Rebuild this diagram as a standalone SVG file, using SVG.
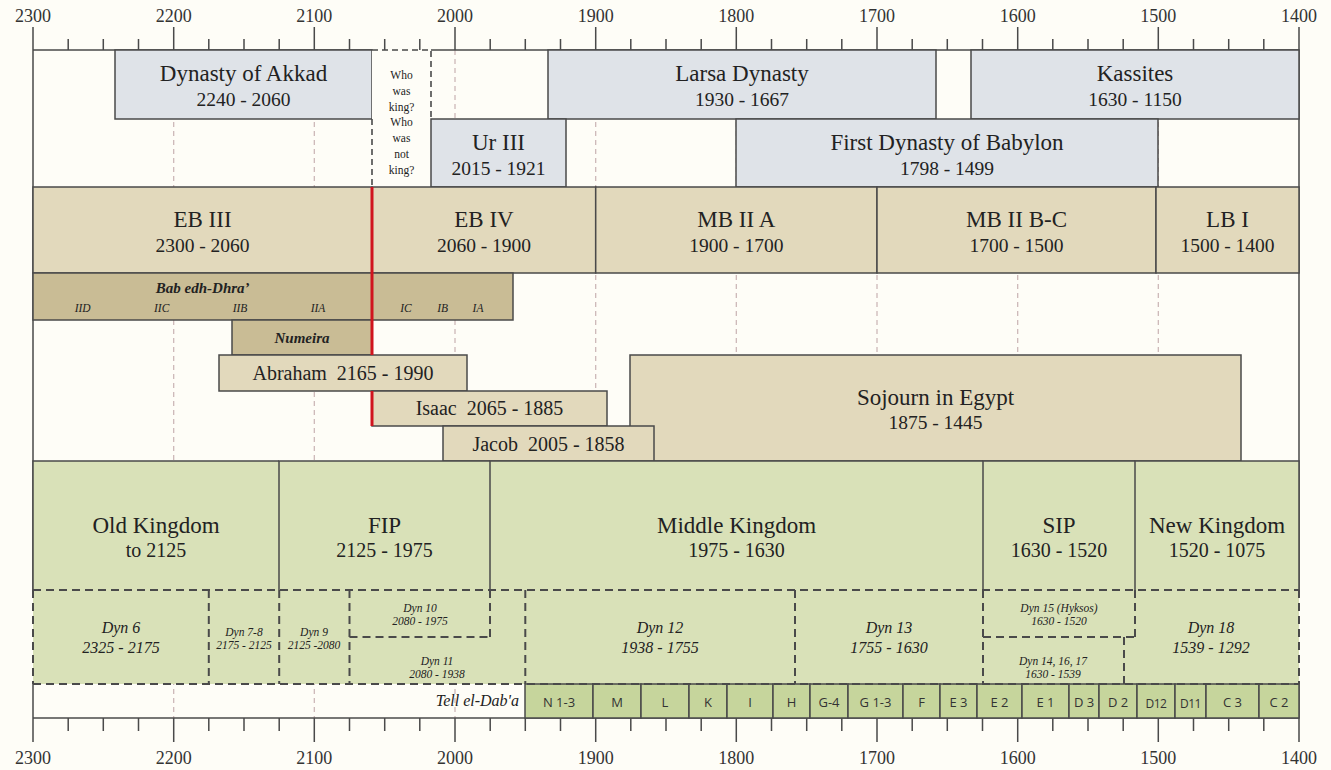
<svg xmlns="http://www.w3.org/2000/svg" width="1331" height="770" viewBox="0 0 1331 770">
<style>
.bg{fill:#fefdf7}
.box{stroke:#4a4a4a;stroke-width:1.5}
.blue{fill:#dfe3e8}
.tan{fill:#e2d9bc}
.dtan{fill:#c9bc95}
.green{fill:#d9e1b8}
.tell{fill:#c6d59c}
.solid{fill:none;stroke:#4a4a4a;stroke-width:1.5}
.dash{fill:none;stroke:#4a4a4a;stroke-width:2;stroke-dasharray:8 5}
.grid{fill:none;stroke:#c9b3b3;stroke-width:1.2;stroke-dasharray:5 4}
.tick{stroke:#4a4a4a;stroke-width:1.5}
.red{stroke:#d0141e;stroke-width:3}
text{font-family:"Liberation Serif","Times New Roman",serif;fill:#222;text-anchor:middle}
.ax{font-size:18px;fill:#333}
.t{font-size:23px}
.d{font-size:19.5px}
.dy{font-size:16px;font-style:italic}
.ds{font-size:11.5px;font-style:italic}
.bi{font-weight:bold;font-style:italic}
.sm{font-size:11.5px;font-style:italic}
.w{font-size:11.5px}
.s{font-family:"Open Sans","Liberation Sans",sans-serif;font-size:13px;fill:#333}
</style>
<rect class="bg" x="0" y="0" width="1331" height="770"/>

<g id="gridlines">
<path class="grid" d="M173.7 50V718M314.3 50V718M455 50V718M595.7 50V718M736.3 50V718M877 50V718M1017.7 50V718M1158.3 50V718"/>
</g>

<g id="top-axis">
<path class="solid" d="M33 50H372M431 50H1299"/>
<path class="tick" d="M33 27V50M68.2 39V50M103.3 39V50M138.5 39V50M173.7 27V50M208.8 39V50M244 39V50M279.2 39V50M314.3 27V50M349.5 39V50M384.7 39V50M419.8 39V50M455 27V50M490.2 39V50M525.3 39V50M560.5 39V50M595.7 27V50M630.8 39V50M666 39V50M701.2 39V50M736.3 27V50M771.5 39V50M806.7 39V50M841.8 39V50M877 27V50M912.2 39V50M947.3 39V50M982.5 39V50M1017.7 27V50M1052.8 39V50M1088 39V50M1123.2 39V50M1158.3 27V50M1193.5 39V50M1228.7 39V50M1263.8 39V50M1299 27V50"/>
<text class="ax" x="33" y="22">2300</text>
<text class="ax" x="173.7" y="22">2200</text>
<text class="ax" x="314.3" y="22">2100</text>
<text class="ax" x="455" y="22">2000</text>
<text class="ax" x="595.7" y="22">1900</text>
<text class="ax" x="736.3" y="22">1800</text>
<text class="ax" x="877" y="22">1700</text>
<text class="ax" x="1017.7" y="22">1600</text>
<text class="ax" x="1158.3" y="22">1500</text>
<text class="ax" x="1299" y="22">1400</text>
</g>

<g id="bottom-axis">
<path class="solid" d="M33 718H1299"/>
<path class="tick" d="M33 718V742M68.2 718V731M103.3 718V731M138.5 718V731M173.7 718V742M208.8 718V731M244 718V731M279.2 718V731M314.3 718V742M349.5 718V731M384.7 718V731M419.8 718V731M455 718V742M490.2 718V731M525.3 718V731M560.5 718V731M595.7 718V742M630.8 718V731M666 718V731M701.2 718V731M736.3 718V742M771.5 718V731M806.7 718V731M841.8 718V731M877 718V742M912.2 718V731M947.3 718V731M982.5 718V731M1017.7 718V742M1052.8 718V731M1088 718V731M1123.2 718V731M1158.3 718V742M1193.5 718V731M1228.7 718V731M1263.8 718V731M1299 718V742"/>
<text class="ax" x="33" y="764">2300</text>
<text class="ax" x="173.7" y="764">2200</text>
<text class="ax" x="314.3" y="764">2100</text>
<text class="ax" x="455" y="764">2000</text>
<text class="ax" x="595.7" y="764">1900</text>
<text class="ax" x="736.3" y="764">1800</text>
<text class="ax" x="877" y="764">1700</text>
<text class="ax" x="1017.7" y="764">1600</text>
<text class="ax" x="1158.3" y="764">1500</text>
<text class="ax" x="1299" y="764">1400</text>
</g>

<g id="frame">
<path class="solid" d="M33 50V590M1299 50V590M33 684V718M1299 684V718"/>
</g>

<g id="akkad"><rect class="box blue" x="115" y="50" width="257" height="69"/><text class="t" x="243.5" y="81">Dynasty of Akkad</text><text class="d" x="243.5" y="106">2240 - 2060</text></g>
<g id="who-was-king"><rect class="bg" x="372" y="50" width="59" height="137"/><path class="dash" style="stroke-width:1.6;stroke-dasharray:6 4" d="M372 119V187M372 50H431V119"/>
<text class="w" x="401.5" y="79">Who</text><text class="w" x="401.5" y="95">was</text><text class="w" x="401.5" y="111">king?</text><text class="w" x="401.5" y="126">Who</text><text class="w" x="401.5" y="142">was</text><text class="w" x="401.5" y="158">not</text><text class="w" x="401.5" y="174">king?</text></g>
<g id="larsa"><rect class="box blue" x="548" y="50" width="388" height="69"/><text class="t" x="742" y="81">Larsa Dynasty</text><text class="d" x="742" y="106">1930 - 1667</text></g>
<g id="kassites"><rect class="box blue" x="971" y="50" width="328" height="69"/><text class="t" x="1135" y="81">Kassites</text><text class="d" x="1135" y="106">1630 - 1150</text></g>
<g id="ur3"><rect class="box blue" x="431" y="119" width="135" height="68"/><text class="t" x="498.5" y="150">Ur III</text><text class="d" x="498.5" y="175">2015 - 1921</text></g>
<g id="babylon"><rect class="box blue" x="736" y="119" width="422" height="68"/><text class="t" x="947" y="150">First Dynasty of Babylon</text><text class="d" x="947" y="175">1798 - 1499</text></g>

<g id="eb3"><rect class="box tan" x="33" y="187" width="339" height="86"/><text class="t" x="202.5" y="227">EB III</text><text class="d" x="202.5" y="252">2300 - 2060</text></g>
<g id="eb4"><rect class="box tan" x="372" y="187" width="223.7" height="86"/><text class="t" x="484" y="227">EB IV</text><text class="d" x="484" y="252">2060 - 1900</text></g>
<g id="mb2a"><rect class="box tan" x="595.7" y="187" width="281.3" height="86"/><text class="t" x="736.3" y="227">MB II A</text><text class="d" x="736.3" y="252">1900 - 1700</text></g>
<g id="mb2bc"><rect class="box tan" x="877" y="187" width="279" height="86"/><text class="t" x="1016.5" y="227">MB II B-C</text><text class="d" x="1016.5" y="252">1700 - 1500</text></g>
<g id="lb1"><rect class="box tan" x="1156" y="187" width="143" height="86"/><text class="t" x="1227.5" y="227">LB I</text><text class="d" x="1227.5" y="252">1500 - 1400</text></g>

<g id="bab-edh-dhra"><rect class="box dtan" x="33" y="273" width="480" height="47"/><text class="bi" style="font-size:15px" x="202.7" y="293">Bab edh-Dhra’</text>
<text class="sm" x="82.7" y="311.5">IID</text><text class="sm" x="161.7" y="311.5">IIC</text><text class="sm" x="240" y="311.5">IIB</text><text class="sm" x="318" y="311.5">IIA</text><text class="sm" x="406" y="311.5">IC</text><text class="sm" x="442.7" y="311.5">IB</text><text class="sm" x="478" y="311.5">IA</text></g>
<g id="numeira"><rect class="box dtan" x="232" y="320" width="140" height="35"/><text class="bi" style="font-size:15px" x="302" y="343">Numeira</text></g>
<g id="sojourn"><rect class="box tan" x="630" y="355" width="611" height="106"/><text class="t" x="935.5" y="405">Sojourn in Egypt</text><text class="d" x="935.5" y="429">1875 - 1445</text></g>
<g id="abraham"><rect class="box tan" x="219" y="355" width="248" height="36"/><text class="d" style="font-size:20px" x="343" y="380">Abraham&#160; 2165 - 1990</text></g>
<g id="isaac"><rect class="box tan" x="372" y="391" width="235" height="35"/><text class="d" style="font-size:20px" x="489.5" y="415">Isaac&#160; 2065 - 1885</text></g>
<g id="jacob"><rect class="box tan" x="443" y="426" width="211" height="35"/><text class="d" style="font-size:20px" x="548.5" y="451">Jacob&#160; 2005 - 1858</text></g>

<g id="red-line"><path class="red" d="M372 187V355M372 391V426"/></g>

<rect class="green" x="33" y="461" width="1266" height="223"/>
<g id="old-kingdom"><path class="solid" d="M33 590V461H279"/><text class="t" x="156" y="533">Old Kingdom</text><text class="d" style="font-size:20px" x="156" y="557">to 2125</text></g>
<g id="fip"><path class="solid" d="M279 590V461H490"/><text class="t" x="384.5" y="533">FIP</text><text class="d" style="font-size:20px" x="384.5" y="557">2125 - 1975</text></g>
<g id="middle-kingdom"><path class="solid" d="M490 590V461H983"/><text class="t" x="736.5" y="533">Middle Kingdom</text><text class="d" style="font-size:20px" x="736.5" y="557">1975 - 1630</text></g>
<g id="sip"><path class="solid" d="M983 590V461H1135"/><text class="t" x="1059" y="533">SIP</text><text class="d" style="font-size:20px" x="1059" y="557">1630 - 1520</text></g>
<g id="new-kingdom"><path class="solid" d="M1135 590V461H1299V590"/><text class="t" x="1217" y="533">New Kingdom</text><text class="d" style="font-size:20px" x="1217" y="557">1520 - 1075</text></g>

<g id="tell-el-daba-boxes">
<rect class="box tell" x="525" y="684" width="68" height="34"/><text class="s" x="559" y="707">N 1-3</text>
<rect class="box tell" x="593" y="684" width="48" height="34"/><text class="s" x="617" y="707">M</text>
<rect class="box tell" x="641" y="684" width="48" height="34"/><text class="s" x="665" y="707">L</text>
<rect class="box tell" x="689" y="684" width="38" height="34"/><text class="s" x="708" y="707">K</text>
<rect class="box tell" x="727" y="684" width="46" height="34"/><text class="s" x="750" y="707">I</text>
<rect class="box tell" x="773" y="684" width="37" height="34"/><text class="s" x="791.5" y="707">H</text>
<rect class="box tell" x="810" y="684" width="38" height="34"/><text class="s" x="829" y="707">G-4</text>
<rect class="box tell" x="848" y="684" width="55" height="34"/><text class="s" x="875.5" y="707">G 1-3</text>
<rect class="box tell" x="903" y="684" width="37" height="34"/><text class="s" x="921.5" y="707">F</text>
<rect class="box tell" x="940" y="684" width="37" height="34"/><text class="s" x="958.5" y="707">E 3</text>
<rect class="box tell" x="977" y="684" width="45" height="34"/><text class="s" x="999.5" y="707">E 2</text>
<rect class="box tell" x="1022" y="684" width="47" height="34"/><text class="s" x="1045.5" y="707">E 1</text>
<rect class="box tell" x="1069" y="684" width="30" height="34"/><text class="s" x="1084" y="707">D 3</text>
<rect class="box tell" x="1099" y="684" width="38" height="34"/><text class="s" x="1118" y="707">D 2</text>
<rect class="box tell" x="1137" y="684" width="38" height="34"/><text class="s" style="font-size:12px;letter-spacing:-0.5px" x="1156" y="708">D12</text>
<rect class="box tell" x="1175" y="684" width="31" height="34"/><text class="s" style="font-size:12px;letter-spacing:-0.5px" x="1190.5" y="708">D11</text>
<rect class="box tell" x="1206" y="684" width="53" height="34"/><text class="s" x="1232.5" y="707">C 3</text>
<rect class="box tell" x="1259" y="684" width="40" height="34"/><text class="s" x="1279" y="707">C 2</text>
</g>
<g id="tell-label"><text class="dy" style="text-anchor:end" x="519" y="706">Tell el-Dab'a</text></g>

<g id="dynasty-dividers">
<path class="dash" d="M33 590H1299M33 684H1299M33 590V684M1299 590V684M208.8 590V684M279.2 590V684M349.5 590V684M490 590V637M349.5 637H490M525.3 590V684M795 590V684M983 590V684M1135 590V637M983 637H1135M1124 637V684"/>
</g>

<g id="dyn6"><text class="dy" x="121" y="633">Dyn 6</text><text class="dy" x="121" y="653">2325 - 2175</text></g>
<g id="dyn7-8"><text class="ds" x="244" y="636">Dyn 7-8</text><text class="ds" x="244" y="649">2175 - 2125</text></g>
<g id="dyn9"><text class="ds" x="314" y="636">Dyn 9</text><text class="ds" x="314" y="649">2125 -2080</text></g>
<g id="dyn10"><text class="ds" x="420" y="612">Dyn 10</text><text class="ds" x="420" y="625">2080 - 1975</text></g>
<g id="dyn11"><text class="ds" x="437" y="665">Dyn 11</text><text class="ds" x="437" y="678">2080 - 1938</text></g>
<g id="dyn12"><text class="dy" x="660" y="633">Dyn 12</text><text class="dy" x="660" y="653">1938 - 1755</text></g>
<g id="dyn13"><text class="dy" x="889" y="633">Dyn 13</text><text class="dy" x="889" y="653">1755 - 1630</text></g>
<g id="dyn15"><text class="ds" x="1059" y="612">Dyn 15 (Hyksos)</text><text class="ds" x="1059" y="625">1630 - 1520</text></g>
<g id="dyn14-16-17"><text class="ds" x="1053" y="665">Dyn 14, 16, 17</text><text class="ds" x="1053" y="678">1630 - 1539</text></g>
<g id="dyn18"><text class="dy" x="1211" y="633">Dyn 18</text><text class="dy" x="1211" y="653">1539 - 1292</text></g>
</svg>
